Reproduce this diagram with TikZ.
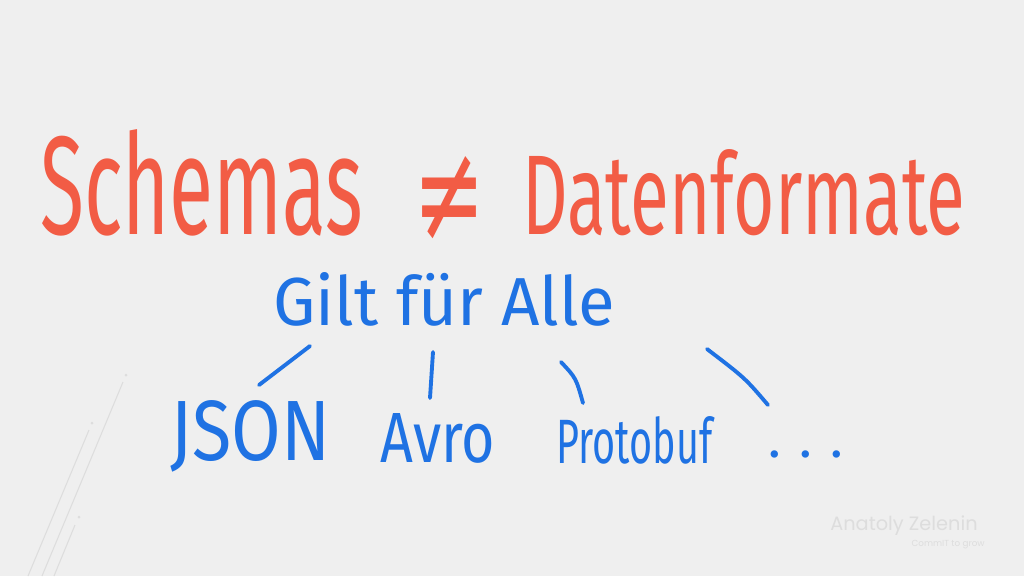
\documentclass[tikz,border=0pt]{standalone}
\usepackage{fontspec}
\usepackage{graphicx}
\setmainfont{Fira Sans}
\newfontfamily\markfont{Poppins}
\newfontfamily\symfont{DejaVu Sans}
\usetikzlibrary{positioning, calc}

\definecolor{boardbg}{HTML}{EFEFEF}
\definecolor{penred}{HTML}{F25C45}
\definecolor{penblue}{HTML}{1F72E3}
\definecolor{faintgrey}{HTML}{DDDDDD}

% handwritten word squeezed into a box of given width and height
\newcommand{\penword}[3]{\resizebox{#1}{#2}{\fontsize{40}{40}\selectfont #3}}

\begin{document}
\begin{tikzpicture}[x=0.02cm, y=-0.02cm,
    redpen/.style={text=penred, inner sep=0pt, anchor=base west},
    bluepen/.style={text=penblue, inner sep=0pt, anchor=base west},
    stroke/.style={draw=penblue, line width=2.2pt, line cap=round}]
                % Board
                \useasboundingbox (0,0) rectangle (1024,576);
                \fill[boardbg] (0,0) rectangle (1024,576);

                % Decorative lines bottom left
                \draw[faintgrey, line width=0.6pt] (123,382) -- (42,576);
                \draw[faintgrey, line width=0.6pt] (89,430) -- (28,576);
                \draw[faintgrey, line width=0.6pt] (75,525) -- (54,576);
                \fill[faintgrey] (126,375) circle (1.5);
                \fill[faintgrey] (92,423) circle (1.5);
                \fill[faintgrey] (79,517) circle (1.5);

                % Title
                \node[redpen] (schemas) at (40,234) {\penword{6.46cm}{2.1cm}{Schemas}};
                \node[text=penred, inner sep=0pt] (neq) at (449,199) {\resizebox*{1.44cm}{1.7cm}{\symfont ≠}};
                \node[redpen] (formats) at (522,234) {\penword{8.86cm}{1.7cm}{Datenformate}};

                % Parent
                \node[bluepen] (gilt) at (273,325) {\penword{6.84cm}{1.06cm}{Gilt für Alle}};

                % Children
                \node[bluepen] (json) at (170,460) {\penword{3.2cm}{1.2cm}{JSON}};
                \node[bluepen] (avro) at (380,462) {\penword{2.3cm}{0.98cm}{Avro}};
                \node[bluepen] (proto) at (556,463) {\penword{3.12cm}{0.94cm}{Protobuf}};
                \node[bluepen] (more) at (768,457) {\fontsize{30}{30}\selectfont .\hspace{0.35em}.\hspace{0.35em}.};

                % Branches
                \coordinate (b1) at (310,346); \coordinate (e1) at (259,385);
                \coordinate (b2) at (433,352); \coordinate (e2) at (430,398);
                \coordinate (b3) at (561,362); \coordinate (e3) at (583,403);
                \coordinate (b4) at (707,349); \coordinate (e4) at (768,405);
                \draw[stroke] (b1) -- (e1);
                \draw[stroke] (b2) -- (e2);
                \draw[stroke] (b3) .. controls (576,378) .. (e3);
                \draw[stroke] (b4) .. controls (745,378) .. (e4);

                % Watermark
                \node[text=faintgrey, anchor=base east, inner sep=0pt] (author) at (978,530) {\markfont\fontsize{11}{11}\selectfont Anatoly Zelenin};
                \node[text=faintgrey, anchor=base east, inner sep=0pt] (claim) at (985,546) {\markfont\fontsize{5}{5}\selectfont CommIT to grow};
            \end{tikzpicture}
\end{document}
